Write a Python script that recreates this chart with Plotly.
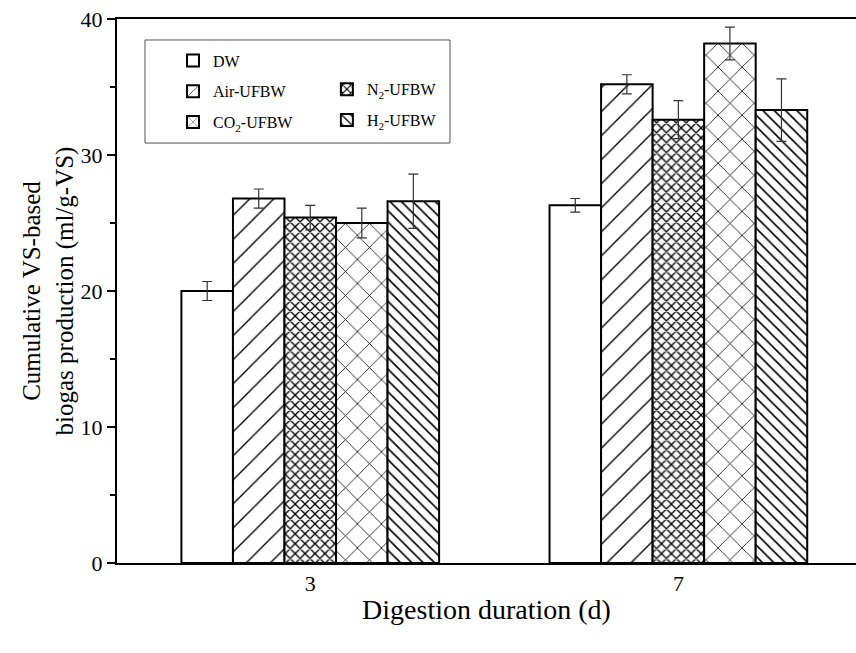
import plotly.graph_objects as go

days = [3, 7]
tick_labels = ["3", "7"]
series_names = ["DW", "Air-UFBW", "N<sub>2</sub>-UFBW", "CO<sub>2</sub>-UFBW", "H<sub>2</sub>-UFBW"]
dw = [20.0, 26.3]
air = [26.8, 35.2]
n2 = [25.4, 32.6]
co2 = [25.0, 38.2]
h2 = [26.6, 33.3]
dw_err = [0.7, 0.5]
air_err = [0.7, 0.7]
n2_err = [0.9, 1.4]
co2_err = [1.1, 1.2]
h2_err = [2.0, 2.3]

values = [dw, air, n2, co2, h2]
errors = [dw_err, air_err, n2_err, co2_err, h2_err]
common = dict(fgcolor="#000000", bgcolor="#ffffff", fgopacity=1, fillmode="replace")
patterns = [dict(shape=""),
            dict(shape="/", size=17, solidity=0.08, **common),
            dict(shape="x", size=7, solidity=0.35, **common),
            dict(shape="x", size=17, solidity=0.09, **common),
            dict(shape="\\", size=8, solidity=0.2, **common)]
legend_ids = ["legend", "legend", "legend2", "legend", "legend2"]

fig = go.Figure()
for i, (name, v, e) in enumerate(zip(series_names, values, errors)):
    fig.add_trace(go.Bar(
        x=days, y=v, name=name,
        marker=dict(color="white", line=dict(color="black", width=2), pattern=patterns[i]),
        error_y=dict(type="data", array=e, color="#333333", thickness=1.2, width=5),
        legend=legend_ids[i], legendgroup=name,
    ))

font_family = "Liberation Serif"
fig.update_layout(
    width=856, height=653,
    margin=dict(l=117, r=0, t=19, b=90),
    paper_bgcolor="white", plot_bgcolor="white",
    barmode="group", bargap=0.3, bargroupgap=0,
    font=dict(family=font_family, color="black", size=22),
    xaxis=dict(range=[0.9, 8.93], tickvals=days, ticktext=tick_labels,
               showline=True, linecolor="black", linewidth=2, mirror=True,
               ticks="", showgrid=False, zeroline=False,
               tickfont=dict(size=22, family=font_family),
               title=dict(text="Digestion duration (d)", font=dict(size=28, family=font_family), standoff=4)),
    yaxis=dict(range=[0, 40], tickvals=[0, 10, 20, 30, 40],
               showline=True, linecolor="black", linewidth=2, mirror=False,
               ticks="outside", ticklen=8, tickwidth=1.5, tickcolor="black",
               minor=dict(tickvals=[5, 15, 25, 35], ticks="outside", ticklen=5, tickwidth=1.5, tickcolor="black"),
               showgrid=False, zeroline=False, tickfont=dict(size=22, family=font_family),
               title=dict(text="Cumulative VS-based<br>biogas production (ml/g-VS)",
                          font=dict(size=25, family=font_family), standoff=0)),
    legend=dict(x=0.0758, y=0.955, xanchor="left", yanchor="top", bgcolor="rgba(0,0,0,0)",
                borderwidth=0, font=dict(size=16, family=font_family), tracegroupgap=7,
                orientation="v"),
    legend2=dict(x=0.284, y=0.902, xanchor="left", yanchor="top", bgcolor="rgba(0,0,0,0)",
                 borderwidth=0, font=dict(size=16, family=font_family), tracegroupgap=7,
                 orientation="v"),
    shapes=[dict(type="rect", xref="paper", yref="paper", x0=0.0379, x1=0.4506, y0=0.772, y1=0.9614,
                 line=dict(color="#555555", width=1))],
)

fig.write_html("out.html")
